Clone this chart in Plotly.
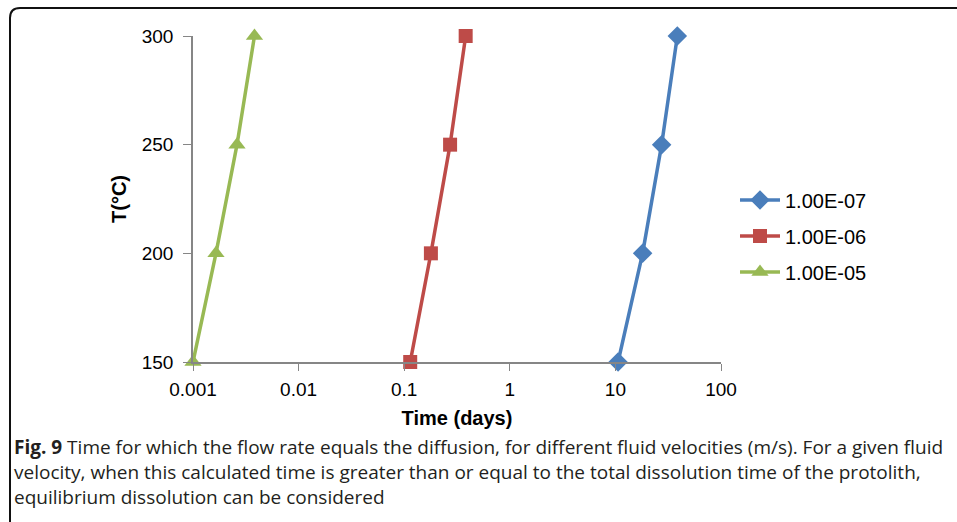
import plotly.graph_objects as go

temps = [150, 200, 250, 300]
t_1e7 = [10.6, 18.1, 27.4, 38.6]
t_1e6 = [0.114, 0.179, 0.272, 0.382]
t_1e5 = [0.001, 0.00165, 0.00261, 0.00382]
series_names = ["1.00E-07", "1.00E-06", "1.00E-05"]
colors = ["#4A7EBB", "#BE4B48", "#98B954"]
symbols = ["diamond", "square", "triangle-up"]
x_ticks = [0.001, 0.01, 0.1, 1, 10, 100]
x_tick_text = ["0.001", "0.01", "0.1", "1", "10", "100"]
y_ticks = [150, 200, 250, 300]

W, H = 957, 522
L, R, T, B = 193, 721, 36, 362

fig = go.Figure()
for i, (name, xs) in enumerate(zip(series_names, [t_1e7, t_1e6, t_1e5])):
    fig.add_trace(go.Scatter(
        x=xs, y=temps, name=name, mode="lines+markers",
        line=dict(color=colors[i], width=3.5),
        marker=dict(symbol=symbols[i], size=15 if symbols[i] != "square" else 14, color=colors[i]),
        legendgroup=name, cliponaxis=False,
    ))

def px(x):
    return (x - L) / (R - L)

def py(y):
    return (B - y) / (B - T)

# rounded frame (cropped at right and bottom)
x0, y0, r = 10, 8, 10
path = (f"M {px(x0)} {py(H + 20)} L {px(x0)} {py(y0 + r)} "
        f"Q {px(x0)} {py(y0)} {px(x0 + r)} {py(y0)} L {px(W + 20)} {py(y0)}")
fig.add_shape(type="path", path=path, xref="paper", yref="paper",
              line=dict(color="#111111", width=2))

caption_lines = [
    "<b>Fig. 9</b> Time for which the flow rate equals the diffusion, for different fluid velocities (m/s). For a given fluid",
    "velocity, when this calculated time is greater than or equal to the total dissolution time of the protolith,",
    "equilibrium dissolution can be considered",
]
for k, line in enumerate(caption_lines):
    fig.add_annotation(text=line, xref="paper", yref="paper", x=px(12), y=py(447 + 25 * k),
                       xanchor="left", yanchor="middle", showarrow=False,
                       font=dict(family="Open Sans", size=19, color="#231F20"))

fig.update_layout(
    width=W, height=H,
    margin=dict(l=L, r=W - R, t=T, b=H - B, pad=0),
    paper_bgcolor="white", plot_bgcolor="white",
    font=dict(family="Liberation Sans, Arial", size=19, color="black"),
    legend=dict(x=px(735), y=py(236), xanchor="left", yanchor="middle",
                font=dict(size=20), tracegroupgap=7, traceorder="grouped",
                itemwidth=40, bgcolor="rgba(0,0,0,0)"),
    xaxis=dict(type="log", range=[-3, 2], tickvals=x_ticks, ticktext=x_tick_text,
               showgrid=False, zeroline=False, showline=True, linecolor="#868686", linewidth=1.5,
               ticks="outside", ticklen=7, tickcolor="#868686", tickfont=dict(size=19),
               ticklabelstandoff=2,
               title=dict(text="<b>Time (days)</b>", font=dict(size=20), standoff=12)),
    yaxis=dict(range=[150, 300], tickvals=y_ticks,
               showgrid=False, zeroline=False, showline=True, linecolor="#868686", linewidth=1.5,
               ticks="outside", ticklen=8, tickcolor="#868686", tickfont=dict(size=19),
               ticklabelstandoff=6,
               title=dict(text="<b>T(°C)</b>", font=dict(size=20), standoff=10)),
)

fig.write_html("out.html")
